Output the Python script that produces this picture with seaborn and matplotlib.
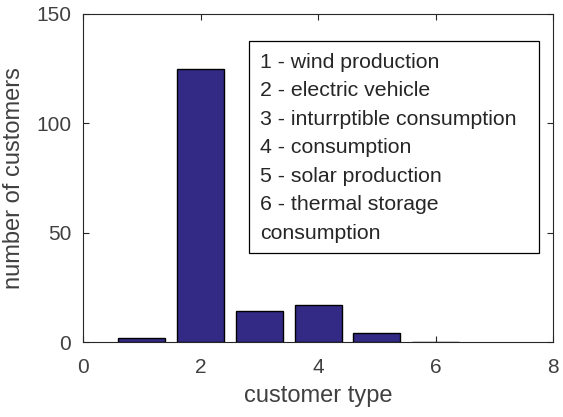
import matplotlib
matplotlib.use("Agg")
import matplotlib.pyplot as plt
import seaborn as sns
from matplotlib.patches import Rectangle

customer_types = [1, 2, 3, 4, 5, 6]
customer_counts = [2, 125, 14, 17, 4, 0]
type_names = [
    "1 - wind production",
    "2 - electric vehicle",
    "3 - inturrptible consumption",
    "4 - consumption",
    "5 - solar production",
    "6 - thermal storage",
    "consumption",
]
x_ticks = [0, 2, 4, 6, 8]
y_ticks = [0, 50, 100, 150]

sns.set_theme(style="white")
plt.rcParams["font.family"] = ["Liberation Sans", "DejaVu Sans"]

fig = plt.figure(figsize=(5.63, 4.17), dpi=100)
ax = fig.add_axes([83 / 563, 1 - 342 / 417, (553 - 83) / 563, (342 - 14) / 417])

sns.barplot(x=customer_types, y=customer_counts, native_scale=True, width=0.8,
            color="#332a85", saturation=1, edgecolor="black", linewidth=1.0, ax=ax)

ax.set_xlim(0, 8)
ax.set_ylim(0, 150)
ax.set_xticks(x_ticks)
ax.set_yticks(y_ticks)
ax.tick_params(axis="both", direction="in", length=4, width=0.8, colors="#262626",
               labelsize=15, top=True, right=True, bottom=True, left=True)
ax.tick_params(axis="x", pad=11.5)
ax.tick_params(axis="y", pad=8.5)
ax.tick_params(axis="both", labelcolor="#404040")
for s in ax.spines.values():
    s.set_visible(True)
    s.set_color("#262626")
    s.set_linewidth(0.8)

ax.set_xlabel("customer type", fontsize=17, color="#404040", labelpad=6)
ax.set_ylabel("number of customers", fontsize=17, color="#404040", labelpad=8)

# Key describing each customer type
box = Rectangle((0.354, 0.272), 0.616, 0.645, transform=ax.transAxes,
                facecolor="white", edgecolor="black", linewidth=0.9, zorder=5)
ax.add_patch(box)
y0 = 0.853
step = 0.0868
for i, name in enumerate(type_names):
    ax.text(0.377, y0 - i * step, name, transform=ax.transAxes, fontsize=15.3,
            color="#262626", va="center", ha="left", zorder=6)

fig.savefig("out.png", dpi=100)
